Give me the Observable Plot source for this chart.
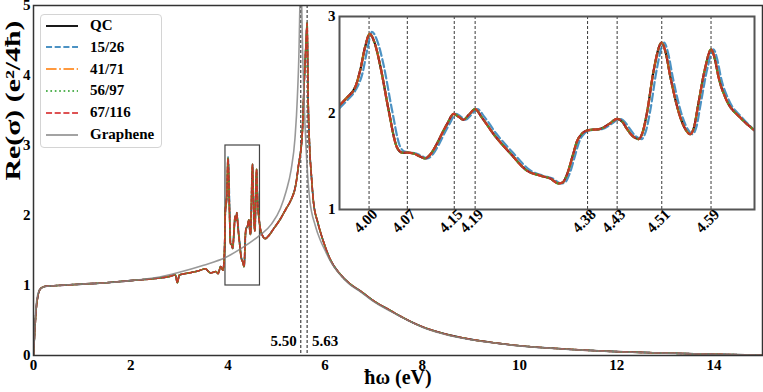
<!DOCTYPE html>
<html>
<head>
<meta charset="utf-8">
<script src="https://cdn.jsdelivr.net/npm/d3@7"></script>
<script src="https://cdn.jsdelivr.net/npm/@observablehq/plot@0.6"></script>
<style>
  html, body { margin: 0; padding: 0; background: #fff; }
  #wrap { position: relative; width: 763px; height: 392px; background: #fff; font-family: 'Liberation Serif', 'Times New Roman', serif; font-weight: bold; }
  #inset { position: absolute; left: 300px; top: 0px; }
  #legend { position: absolute; left: 40px; top: 14px; width: 120px; height: 132px; border: 1px solid #d4d4d4; border-radius: 4px; background: rgba(255,255,255,0.85); }
  .row { position: absolute; left: 0; height: 20px; display: flex; align-items: center; font-size: 15px; color: #000; }
  .row svg { margin-left: 5px; margin-right: 12px; }
</style>
</head>
<body>
<div id="wrap">
  <div id="main"></div>
  <div id="inset"></div>
  <div id="legend"></div>
</div>
<script>
// ---------------- data ----------------
const seriesNames = ["QC", "15/26", "41/71", "56/97", "67/116", "Graphene"];

// main x / y ticks
const mainXTicks = [0, 2, 4, 6, 8, 10, 12, 14];
const mainYTicks = [0, 1, 2, 3, 4, 5];
const peakLines = [5.50, 5.63];
const peakLabels = ["5.50", "5.63"];
const zoomBox = [3.95, 4.66, 1, 3]; // x1, x2, y1, y2

// approximant curves (QC, 41/71, 56/97, 67/116 coincide at this scale)
const lowEnergy = [0, 0.03, 0.06, 0.1, 0.15, 0.25, 0.5, 1.0, 1.5, 2.0, 2.5, 2.8, 2.92, 2.96, 3.0, 3.2, 3.4, 3.54, 3.6, 3.65, 3.7, 3.75, 3.8, 3.85, 3.9, 3.93];
const lowSigma  = [0, 0.4, 0.7, 0.88, 0.96, 0.99, 1.0, 1.02, 1.04, 1.07, 1.1, 1.13, 1.15, 1.04, 1.15, 1.18, 1.21, 1.24, 1.2, 1.18, 1.19, 1.2, 1.17, 1.27, 1.22, 1.5];

const insetEnergy = [3.949, 3.962, 3.977, 3.985, 3.993, 4.001, 4.010, 4.020, 4.034, 4.048, 4.057, 4.066, 4.077, 4.088, 4.097, 4.107, 4.117, 4.127, 4.135, 4.146, 4.155, 4.163, 4.172, 4.183, 4.195, 4.215, 4.244, 4.273, 4.296, 4.313, 4.327, 4.334, 4.342, 4.351, 4.359, 4.368, 4.377, 4.399, 4.415, 4.428, 4.437, 4.445, 4.455, 4.465, 4.473, 4.480, 4.491, 4.505, 4.512, 4.520, 4.537, 4.546, 4.554, 4.561, 4.568, 4.580, 4.590, 4.597, 4.603, 4.617, 4.640, 4.665];
const insetQC     = [2.08, 2.16, 2.28, 2.45, 2.68, 2.82, 2.72, 2.47, 2.02, 1.645, 1.59, 1.59, 1.58, 1.55, 1.53, 1.58, 1.68, 1.80, 1.89, 1.99, 1.96, 1.93, 1.98, 2.04, 1.95, 1.78, 1.58, 1.40, 1.35, 1.32, 1.27, 1.28, 1.37, 1.55, 1.71, 1.79, 1.82, 1.835, 1.89, 1.94, 1.91, 1.835, 1.76, 1.73, 1.82, 2.02, 2.44, 2.73, 2.62, 2.37, 1.955, 1.83, 1.78, 1.86, 2.09, 2.47, 2.66, 2.55, 2.37, 2.13, 1.955, 1.82];

// 15/26 approximant (slightly shifted in the inset)
const insetEnergy1526 = [3.949, 3.962, 3.977, 3.989, 3.997, 4.005, 4.014, 4.025, 4.039, 4.053, 4.061, 4.070, 4.081, 4.092, 4.101, 4.111, 4.121, 4.131, 4.139, 4.150, 4.159, 4.167, 4.176, 4.187, 4.199, 4.219, 4.248, 4.277, 4.300, 4.317, 4.331, 4.338, 4.346, 4.355, 4.363, 4.372, 4.381, 4.403, 4.419, 4.432, 4.441, 4.450, 4.460, 4.470, 4.478, 4.485, 4.496, 4.509, 4.516, 4.524, 4.541, 4.550, 4.558, 4.565, 4.572, 4.584, 4.594, 4.601, 4.607, 4.621, 4.643, 4.665];
const inset1526       = [2.05, 2.13, 2.24, 2.42, 2.66, 2.84, 2.75, 2.50, 2.05, 1.66, 1.60, 1.59, 1.58, 1.55, 1.53, 1.58, 1.68, 1.80, 1.89, 1.99, 1.96, 1.93, 1.98, 2.04, 1.96, 1.79, 1.59, 1.41, 1.35, 1.32, 1.27, 1.28, 1.37, 1.55, 1.71, 1.79, 1.82, 1.835, 1.89, 1.94, 1.91, 1.835, 1.76, 1.73, 1.82, 2.02, 2.44, 2.73, 2.62, 2.37, 1.955, 1.83, 1.78, 1.86, 2.09, 2.47, 2.66, 2.55, 2.37, 2.13, 1.955, 1.82];

const highEnergy = [4.7, 4.77, 4.85, 4.95, 5.08, 5.2, 5.29, 5.4, 5.45, 5.53, 5.57, 5.61, 5.63, 5.65, 5.68, 5.72, 5.76, 5.85, 5.96, 6.1, 6.3, 6.5, 6.73, 7.0, 7.35, 7.55, 8.0, 8.4, 9.0, 9.5, 10, 11, 12, 13, 14, 15];
const highSigma  = [1.73, 1.67, 1.72, 1.82, 1.95, 2.1, 2.21, 2.45, 2.7, 3.17, 3.9, 4.5, 4.75, 3.7, 3.0, 2.55, 2.2, 1.9, 1.64, 1.38, 1.17, 1.03, 0.92, 0.78, 0.64, 0.56, 0.41, 0.32, 0.23, 0.18, 0.14, 0.09, 0.055, 0.035, 0.018, 0.006];

// graphene
const grapheneEnergy = [0, 0.03, 0.06, 0.1, 0.15, 0.25, 0.5, 1.0, 1.5, 2.0, 2.5, 3.0, 3.5, 3.95, 4.3, 4.66, 4.9, 5.08, 5.2, 5.3, 5.38, 5.43, 5.47, 5.49, 5.5, 5.51, 5.53, 5.56, 5.6, 5.68, 5.8, 5.9, 6.0, 6.1, 6.3, 6.5, 6.73, 7.0, 7.35, 7.55, 8.0, 8.4, 9.0, 9.5, 10, 11, 12, 13, 14, 15];
const grapheneSigma  = [0, 0.45, 0.75, 0.9, 0.96, 0.985, 1.0, 1.02, 1.04, 1.07, 1.11, 1.19, 1.29, 1.4, 1.54, 1.72, 1.88, 2.1, 2.35, 2.65, 3.1, 3.7, 4.6, 5.6, 7, 5.6, 4.6, 3.8, 3.1, 2.25, 1.85, 1.65, 1.5, 1.36, 1.16, 1.02, 0.91, 0.77, 0.63, 0.555, 0.405, 0.315, 0.225, 0.178, 0.138, 0.088, 0.054, 0.034, 0.017, 0.005];

// inset ticks
const insetYTicks = [1, 2, 3];
const insetPeaks = [4.000, 4.066, 4.147, 4.183, 4.377, 4.428, 4.505, 4.590];
const insetPeakLabels = ["4.00", "4.07", "4.15", "4.19", "4.38", "4.43", "4.51", "4.59"];
const insetXDomain = [3.949, 4.665];
const insetYDomain = [1, 3];

const xLabel = "ħω (eV)";
const yLabel = "Re(σ) (e²/4ħ)";

// ---------------- styles ----------------
const colors = {"QC": "#000000", "15/26": "#1f77b4", "41/71": "#ff7f0e", "56/97": "#2ca02c", "67/116": "#d62728", "Graphene": "#808080"};
const opac = {"QC": 1, "15/26": 0.8, "41/71": 0.8, "56/97": 0.8, "67/116": 0.8, "Graphene": 0.8};
const dashMain = {"QC": null, "15/26": "5.5,2.4", "41/71": "9.6,2.4,1.5,2.4", "56/97": "1.5,2.5", "67/116": "5.5,2.4", "Graphene": null};
const dashInset = {"QC": null, "15/26": "8,3.5", "41/71": "14,3.5,2.2,3.5", "56/97": "2.2,3.6", "67/116": "8,3.5", "Graphene": null};

const rows = (xs, ys) => xs.map((x, i) => ({x, y: ys[i]}));
const qcMain = rows(lowEnergy.concat(insetEnergy, highEnergy), lowSigma.concat(insetQC, highSigma));
const s1526Main = rows(lowEnergy.concat(insetEnergy1526, highEnergy), lowSigma.concat(inset1526, highSigma));
const grapheneRows = rows(grapheneEnergy, grapheneSigma);
const qcInset = rows(insetEnergy, insetQC);
const s1526Inset = rows(insetEnergy1526, inset1526);

const font = "'Liberation Serif', 'Times New Roman', serif";
const intFmt = d => String(d);

function seriesLines(dataFor, dashes, width) {
  return seriesNames.map(name => Plot.line(dataFor(name), {
    x: "x", y: "y", stroke: colors[name], strokeOpacity: opac[name],
    strokeWidth: width, strokeDasharray: dashes[name] || undefined,
    curve: "monotone-x", clip: true
  }));
}

// ---------------- main chart ----------------
const main = Plot.plot({
  width: 763, height: 392,
  marginLeft: 33, marginRight: 1, marginTop: 5, marginBottom: 37,
  style: {fontFamily: font, fontWeight: "bold", fontSize: "15px", background: "transparent", color: "#000", overflow: "visible"},
  x: {domain: [0, 15]},
  y: {domain: [0, 5]},
  marks: [
    Plot.ruleX(peakLines, {stroke: "#000", strokeDasharray: "3,2", strokeWidth: 0.9}),
    Plot.rect([zoomBox], {x1: d => d[0], x2: d => d[1], y1: d => d[2], y2: d => d[3], fill: "none", stroke: "#444", strokeWidth: 1.2}),
    ...seriesLines(name => name === "Graphene" ? grapheneRows : (name === "15/26" ? s1526Main : qcMain), dashMain, 1.6),
    Plot.text([peakLines[0]], {x: d => d, frameAnchor: "bottom", text: () => peakLabels[0], textAnchor: "end", dx: -4, dy: -10, fontSize: 15, fontWeight: "bold"}),
    Plot.text([peakLines[1]], {x: d => d, frameAnchor: "bottom", text: () => peakLabels[1], textAnchor: "start", dx: 5, dy: -10, fontSize: 15, fontWeight: "bold"}),
    Plot.frame({stroke: "#333", strokeWidth: 1.5}),
    Plot.axisX({ticks: mainXTicks, tickFormat: intFmt, tickSize: 0, tickPadding: 4, label: null, fontSize: 15, fontWeight: "bold"}),
    Plot.axisY({ticks: mainYTicks, tickFormat: intFmt, tickSize: 0, tickPadding: 3, label: null, fontSize: 15, fontWeight: "bold"}),
    Plot.text([xLabel], {frameAnchor: "bottom", dy: 28, fontSize: 20, fontWeight: "bold"}),
    Plot.text([yLabel], {frameAnchor: "left", dx: -20, rotate: -90, fontSize: 21, fontWeight: "bold"})
  ]
});
d3.select(main).selectAll("text").filter(function() { return this.textContent === yLabel; })
  .attr("textLength", 160).attr("lengthAdjust", "spacingAndGlyphs");
document.getElementById("main").appendChild(main);

// ---------------- inset ----------------
const inset = Plot.plot({
  width: 463, height: 250,
  marginLeft: 39, marginRight: 9, marginTop: 16, marginBottom: 41,
  style: {fontFamily: font, fontWeight: "bold", fontSize: "15px", background: "transparent", color: "#000"},
  x: {domain: insetXDomain, axis: null},
  y: {domain: insetYDomain},
  marks: [
    Plot.ruleX(insetPeaks, {stroke: "#222", strokeDasharray: "3,2", strokeWidth: 0.9}),
    ...seriesLines(name => name === "Graphene" ? [] : (name === "15/26" ? s1526Inset : qcInset), dashInset, 2.2),
    Plot.frame({stroke: "#555", strokeWidth: 2}),
    Plot.axisY({ticks: insetYTicks, tickFormat: intFmt, tickSize: 0, tickPadding: 4, label: null, fontSize: 15, fontWeight: "bold"}),
    Plot.text(insetPeaks, {x: d => d, frameAnchor: "bottom", text: (d, i) => insetPeakLabels[i], rotate: -45, dy: 15, fontSize: 15, fontWeight: "bold"})
  ]
});
document.getElementById("inset").appendChild(inset);

// ---------------- legend ----------------
const legend = document.getElementById("legend");
seriesNames.forEach((name, i) => {
  const row = document.createElement("div");
  row.className = "row";
  row.style.top = (0.5 + i * 21.8) + "px";
  const dash = dashMain[name] ? dashMain[name].split(",").map(v => v * 1.1).join(",") : "";
  row.innerHTML = `<svg width="32" height="6"><line x1="0" y1="3" x2="32" y2="3" stroke="${colors[name]}" stroke-opacity="${opac[name]}" stroke-width="1.8" ${dash ? `stroke-dasharray="${dash}"` : ""}/></svg><span>${name}</span>`;
  legend.appendChild(row);
});
</script>
</body>
</html>
